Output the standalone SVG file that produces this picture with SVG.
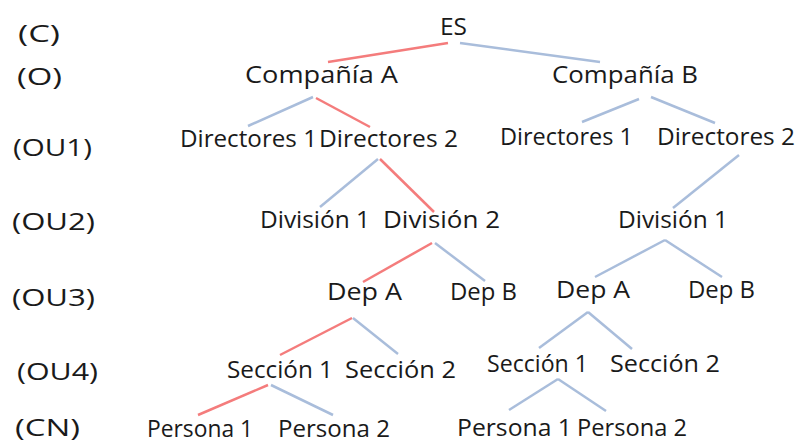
<svg xmlns="http://www.w3.org/2000/svg" width="802" height="444" viewBox="0 0 802 444">
<style>
text{font-family:"Open Sans","DejaVu Sans",sans-serif;font-size:24px;fill:#1a1a1a}
.r{stroke:#f47c7c;stroke-width:2.5;fill:none}
.b{stroke:#a9bddb;stroke-width:2.5;fill:none}
</style>
<rect width="802" height="444" fill="#ffffff"/>
<g id="levels">
<text x="18" y="42" textLength="42" lengthAdjust="spacingAndGlyphs">(C)</text>
<text x="17" y="85" textLength="45" lengthAdjust="spacingAndGlyphs">(O)</text>
<text x="13" y="156" textLength="79" lengthAdjust="spacingAndGlyphs">(OU1)</text>
<text x="12" y="230" textLength="83" lengthAdjust="spacingAndGlyphs">(OU2)</text>
<text x="12" y="306" textLength="83" lengthAdjust="spacingAndGlyphs">(OU3)</text>
<text x="17" y="380" textLength="81" lengthAdjust="spacingAndGlyphs">(OU4)</text>
<text x="15" y="436" textLength="65" lengthAdjust="spacingAndGlyphs">(CN)</text>
</g>
<g id="connectors">
<line class="r" x1="448" y1="43" x2="328" y2="62"/>
<line class="b" x1="460" y1="43" x2="600" y2="62"/>
<line class="b" x1="313" y1="97" x2="248" y2="126"/>
<line class="r" x1="316" y1="98" x2="370" y2="127"/>
<line class="b" x1="639" y1="99" x2="582" y2="122"/>
<line class="b" x1="651" y1="97" x2="715" y2="123"/>
<line class="b" x1="378" y1="159" x2="320" y2="207"/>
<line class="r" x1="380" y1="159" x2="434" y2="212"/>
<line class="b" x1="739" y1="155" x2="673" y2="208"/>
<line class="r" x1="432" y1="243" x2="363" y2="282"/>
<line class="b" x1="435" y1="243" x2="485" y2="281"/>
<line class="b" x1="665" y1="240" x2="595" y2="277"/>
<line class="b" x1="665" y1="240" x2="722" y2="277"/>
<line class="r" x1="352" y1="318" x2="280" y2="355"/>
<line class="b" x1="353" y1="318" x2="398" y2="354"/>
<line class="b" x1="588" y1="312" x2="539" y2="348"/>
<line class="b" x1="588" y1="312" x2="632" y2="349"/>
<line class="r" x1="268" y1="385" x2="198" y2="415"/>
<line class="b" x1="271" y1="385" x2="333" y2="415"/>
<line class="b" x1="558" y1="379" x2="509" y2="410"/>
<line class="b" x1="558" y1="379" x2="606" y2="411"/>
</g>
<g id="es"><text x="440" y="35" textLength="27" lengthAdjust="spacingAndGlyphs">ES</text></g>
<g id="compania-a"><text x="245" y="83" textLength="153" lengthAdjust="spacingAndGlyphs">Compañía A</text></g>
<g id="compania-b"><text x="552" y="83" textLength="146" lengthAdjust="spacingAndGlyphs">Compañía B</text></g>
<g id="a-directores-1"><text x="180" y="147" textLength="137" lengthAdjust="spacingAndGlyphs">Directores 1</text></g>
<g id="a-directores-2"><text x="319" y="147" textLength="139" lengthAdjust="spacingAndGlyphs">Directores 2</text></g>
<g id="b-directores-1"><text x="500" y="145" textLength="133" lengthAdjust="spacingAndGlyphs">Directores 1</text></g>
<g id="b-directores-2"><text x="657" y="145" textLength="138" lengthAdjust="spacingAndGlyphs">Directores 2</text></g>
<g id="a-division-1"><text x="260" y="228" textLength="110" lengthAdjust="spacingAndGlyphs">División 1</text></g>
<g id="a-division-2"><text x="383" y="228" textLength="117" lengthAdjust="spacingAndGlyphs">División 2</text></g>
<g id="b-division-1"><text x="618" y="228" textLength="110" lengthAdjust="spacingAndGlyphs">División 1</text></g>
<g id="a-dep-a"><text x="327" y="300" textLength="75" lengthAdjust="spacingAndGlyphs">Dep A</text></g>
<g id="a-dep-b"><text x="450" y="300" textLength="67" lengthAdjust="spacingAndGlyphs">Dep B</text></g>
<g id="b-dep-a"><text x="556" y="298" textLength="74" lengthAdjust="spacingAndGlyphs">Dep A</text></g>
<g id="b-dep-b"><text x="688" y="298" textLength="67" lengthAdjust="spacingAndGlyphs">Dep B</text></g>
<g id="a-seccion-1"><text x="227" y="378" textLength="106" lengthAdjust="spacingAndGlyphs">Sección 1</text></g>
<g id="a-seccion-2"><text x="345" y="378" textLength="111" lengthAdjust="spacingAndGlyphs">Sección 2</text></g>
<g id="b-seccion-1"><text x="487" y="372" textLength="101" lengthAdjust="spacingAndGlyphs">Sección 1</text></g>
<g id="b-seccion-2"><text x="610" y="372" textLength="110" lengthAdjust="spacingAndGlyphs">Sección 2</text></g>
<g id="a-persona-1"><text x="147" y="437" textLength="106" lengthAdjust="spacingAndGlyphs">Persona 1</text></g>
<g id="a-persona-2"><text x="278" y="437" textLength="112" lengthAdjust="spacingAndGlyphs">Persona 2</text></g>
<g id="b-persona-1"><text x="457" y="436" textLength="115" lengthAdjust="spacingAndGlyphs">Persona 1</text></g>
<g id="b-persona-2"><text x="577" y="436" textLength="110" lengthAdjust="spacingAndGlyphs">Persona 2</text></g>
</svg>
